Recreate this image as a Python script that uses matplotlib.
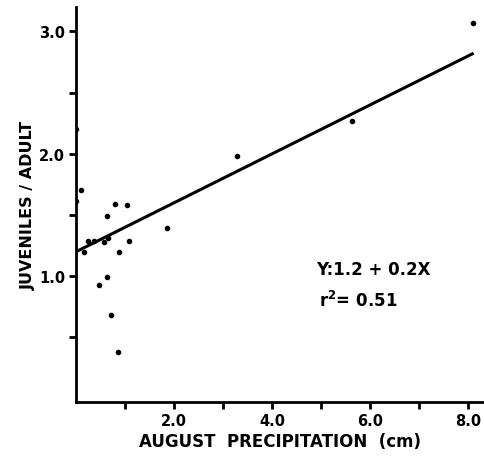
# juveniles per adult against august precipitation, scatter with fitted line

import matplotlib
matplotlib.use("Agg")
import matplotlib.pyplot as plt
import numpy as np

precip_cm = [0.0, 0.1, 0.0, 0.79, 1.03, 0.63, 0.25, 0.37, 0.56, 0.65,
             1.07, 0.16, 0.87, 0.63, 0.46, 0.71, 0.85, 1.86, 3.29, 5.62,
             8.10]
juv_per_adult = [2.2, 1.7, 1.61, 1.59, 1.58, 1.49, 1.29, 1.29, 1.28, 1.31,
                 1.29, 1.2, 1.2, 0.99, 0.93, 0.68, 0.38, 1.39, 1.98, 2.27,
                 3.07]

intercept = 1.2
slope = 0.2
fit_x = [0.0, 8.08]

x_ticks = [1.0, 2.0, 3.0, 4.0, 5.0, 6.0, 7.0, 8.0]
x_tick_labels = ["", "2.0", "", "4.0", "", "6.0", "", "8.0"]
y_ticks = [0.5, 1.0, 1.5, 2.0, 2.5, 3.0]
y_tick_labels = ["", "1.0", "", "2.0", "", "3.0"]

plt.rcParams["font.family"] = ["DejaVu Sans"]

fig = plt.figure(figsize=(4.85, 4.64), dpi=100)
ax = fig.add_axes([0.157, 0.131, 0.839, 0.852])

ax.scatter(precip_cm, juv_per_adult, s=9, color="black", zorder=3)

fx = np.array(fit_x)
ax.plot(fx, intercept + slope * fx, color="black", linewidth=2.2)

ax.set_xlim(0, 8.3)
ax.set_ylim(-0.03, 3.2)

ax.set_xticks(x_ticks)
ax.set_xticklabels(x_tick_labels, fontsize=10.5, fontweight="bold")
ax.set_yticks(y_ticks)
ax.set_yticklabels(y_tick_labels, fontsize=10.5, fontweight="bold")
ax.tick_params(direction="out", length=5, width=2, pad=3)

for side in ["top", "right"]:
    ax.spines[side].set_visible(False)
for side in ["left", "bottom"]:
    ax.spines[side].set_linewidth(2)

ax.set_xlabel("AUGUST  PRECIPITATION  (cm)", fontsize=12,
              fontweight="bold", labelpad=3)
ax.set_ylabel("JUVENILES / ADULT", fontsize=11.5, fontweight="bold",
              labelpad=2)

ax.text(4.9, 1.02, "Y:1.2 + 0.2X", fontsize=12, fontweight="bold")
ax.text(4.95, 0.76, r"r$^{\mathbf{2}}$= 0.51", fontsize=12,
        fontweight="bold")

fig.savefig("out.png", dpi=100)
